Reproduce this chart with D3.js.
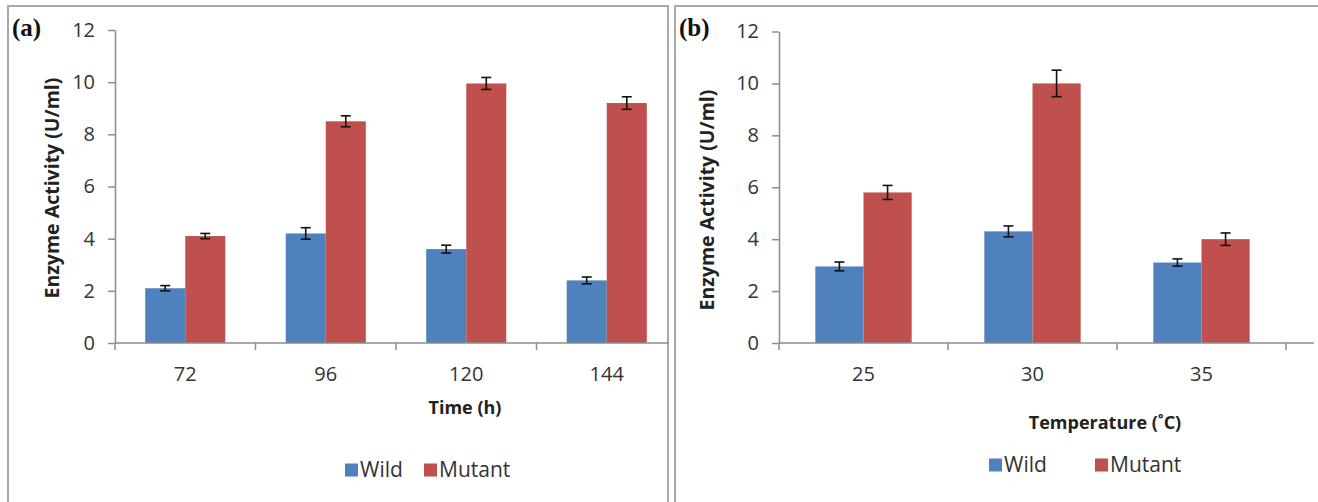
<!DOCTYPE html>
<html>
<head>
<meta charset="utf-8">
<script src="https://cdn.jsdelivr.net/npm/d3@7"></script>
<style>
  body { margin: 0; background: #fff; }
  svg { display: block; font-family: "Open Sans", sans-serif; }
</style>
</head>
<body>
<svg id="chart" width="1318" height="502"></svg>
<script>
// data
const seriesNames = ["Wild", "Mutant"];
const seriesColors = ["#4f81bd", "#c0504d"];
const yTicks = [0, 2, 4, 6, 8, 10, 12];

const timeCats = ["72", "96", "120", "144"];
const timeWild = [2.1, 4.2, 3.6, 2.4];
const timeWildErr = [0.1, 0.22, 0.15, 0.13];
const timeMutant = [4.1, 8.5, 9.95, 9.2];
const timeMutantErr = [0.1, 0.21, 0.23, 0.24];

const tempCats = ["25", "30", "35"];
const tempWild = [2.95, 4.3, 3.1];
const tempWildErr = [0.17, 0.21, 0.14];
const tempMutant = [5.8, 10.0, 4.0];
const tempMutantErr = [0.27, 0.51, 0.24];


const svg = d3.select("#chart");

// panel borders
svg.append("path").attr("d", "M8,502V6H668V502")
   .attr("fill", "none").attr("stroke", "#a8a8a8").attr("stroke-width", 2);
svg.append("path").attr("d", "M675,502V6H1318")
   .attr("fill", "none").attr("stroke", "#a8a8a8").attr("stroke-width", 2);


//------------------------------------------------------------------------------
// one grouped bar panel
//------------------------------------------------------------------------------
function drawPanel(opt)
{
    const g = svg.append("g");

    const clipId = "clip" + opt.tag;
    svg.append("clipPath").attr("id", clipId)
       .append("rect").attr("x", 0).attr("y", 0).attr("width", opt.clipRight).attr("height", 502);
    const inner = g.append("g").attr("clip-path", "url(#" + clipId + ")");

    const y = d3.scaleLinear().domain([0, 12]).range([343, opt.yTop]);
    const x = d3.scaleBand().domain(opt.cats).range([opt.x0, opt.x1]).padding(0);
    const groupW = x.bandwidth() * 0.57;
    const xs = d3.scaleBand().domain(seriesNames).range([0, groupW]).padding(0);
    const off = (x.bandwidth() - groupW) / 2;

    const rows = [];
    opt.cats.forEach((c, i) => {
        rows.push({cat: c, s: 0, v: opt.wild[i], e: opt.wildErr[i]});
        rows.push({cat: c, s: 1, v: opt.mutant[i], e: opt.mutantErr[i]});
    });

    // bars
    inner.selectAll("rect.bar").data(rows).enter().append("rect")
        .attr("class", "bar")
        .attr("x", d => x(d.cat) + off + xs(seriesNames[d.s]))
        .attr("width", xs.bandwidth())
        .attr("y", d => y(d.v))
        .attr("height", d => y(0) - y(d.v))
        .attr("fill", d => seriesColors[d.s]);

    // error bars
    const eb = inner.selectAll("g.err").data(rows).enter().append("g")
        .attr("class", "err")
        .attr("transform", d => "translate(" + (x(d.cat) + off + xs(seriesNames[d.s]) + xs.bandwidth() / 2) + ",0)");
    eb.append("line").attr("x1", 0).attr("x2", 0)
        .attr("y1", d => y(d.v + d.e)).attr("y2", d => y(d.v - d.e));
    eb.append("line").attr("x1", -5).attr("x2", 5)
        .attr("y1", d => y(d.v + d.e)).attr("y2", d => y(d.v + d.e));
    eb.append("line").attr("x1", -5).attr("x2", 5)
        .attr("y1", d => y(d.v - d.e)).attr("y2", d => y(d.v - d.e));
    eb.selectAll("line").attr("stroke", "#111").attr("stroke-width", 1.6);

    // x axis: labels at band centres, ticks on band edges
    const xAxis = inner.append("g").attr("transform", "translate(0,343)")
        .call(d3.axisBottom(x).tickSize(0).tickPadding(24));
    xAxis.select(".domain").attr("d", "M" + opt.x0 + ",0H" + opt.axisEnd)
        .attr("stroke", "#8c8c8c").attr("stroke-width", 1.5);
    xAxis.selectAll("text").attr("font-size", 20).attr("fill", "#333")
        .attr("font-family", "Open Sans, sans-serif");
    const edges = opt.cats.map(c => x(c)).concat([x.range()[1]]);
    inner.selectAll("line.xt").data(edges).enter().append("line")
        .attr("x1", d => d).attr("x2", d => d).attr("y1", 343).attr("y2", 350)
        .attr("stroke", "#8c8c8c").attr("stroke-width", 1.5);

    // y axis
    const yAxis = g.append("g").attr("transform", "translate(" + opt.x0 + ",0)")
        .call(d3.axisLeft(y).tickValues(yTicks).tickSize(7).tickSizeOuter(0).tickPadding(13));
    yAxis.select(".domain").attr("stroke", "#8c8c8c").attr("stroke-width", 1.5);
    yAxis.selectAll(".tick line").attr("stroke", "#8c8c8c").attr("stroke-width", 1.5);
    yAxis.selectAll("text").attr("font-size", 20).attr("fill", "#333")
        .attr("font-family", "Open Sans, sans-serif");

    // y title
    g.append("text")
        .attr("transform", "translate(" + opt.yTitleX + "," + opt.yTitleY + ") rotate(-90)")
        .attr("text-anchor", "middle").attr("dy", "0.35em")
        .attr("font-size", 19.5).attr("font-weight", "bold").attr("fill", "#222")
        .text("Enzyme Activity (U/ml)");

    // x title
    g.append("text")
        .attr("x", opt.xTitleX).attr("y", opt.xTitleY)
        .attr("text-anchor", "middle").attr("dy", "0.35em")
        .attr("font-size", 18).attr("font-weight", "bold").attr("fill", "#222")
        .text(opt.xTitle);

    // panel letter
    g.append("text")
        .attr("x", opt.letterX).attr("y", 36)
        .attr("font-family", "Liberation Serif, Times New Roman, serif")
        .attr("font-size", 25).attr("font-weight", "bold").attr("fill", "#111")
        .text(opt.letter);

    // legend
    const lg = g.selectAll("g.leg").data(seriesNames).enter().append("g")
        .attr("class", "leg")
        .attr("transform", (d, i) => "translate(" + opt.legendX[i] + "," + opt.legendY + ")");
    lg.append("rect").attr("x", 0).attr("y", -6.5).attr("width", 13).attr("height", 13)
        .attr("fill", (d, i) => seriesColors[i]);
    lg.append("text").attr("x", 15).attr("dy", "0.35em")
        .attr("font-size", 21).attr("fill", "#333")
        .text(d => d);
}


drawPanel({
    tag: "a", cats: timeCats,
    wild: timeWild, wildErr: timeWildErr, mutant: timeMutant, mutantErr: timeMutantErr,
    x0: 115, x1: 677, axisEnd: 669, clipRight: 669, yTop: 30,
    yTitleX: 52, yTitleY: 188,
    xTitle: "Time (h)", xTitleX: 465, xTitleY: 408,
    letter: "(a)", letterX: 12,
    legendX: [345, 424], legendY: 470
});

drawPanel({
    tag: "b", cats: tempCats,
    wild: tempWild, wildErr: tempWildErr, mutant: tempMutant, mutantErr: tempMutantErr,
    x0: 779, x1: 1286, axisEnd: 1314, clipRight: 1318, yTop: 31.5,
    yTitleX: 707, yTitleY: 200,
    xTitle: "Temperature (\u02DAC)", xTitleX: 1105, xTitleY: 423,
    letter: "(b)", letterX: 679,
    legendX: [989, 1095], legendY: 465
});
</script>
</body>
</html>
